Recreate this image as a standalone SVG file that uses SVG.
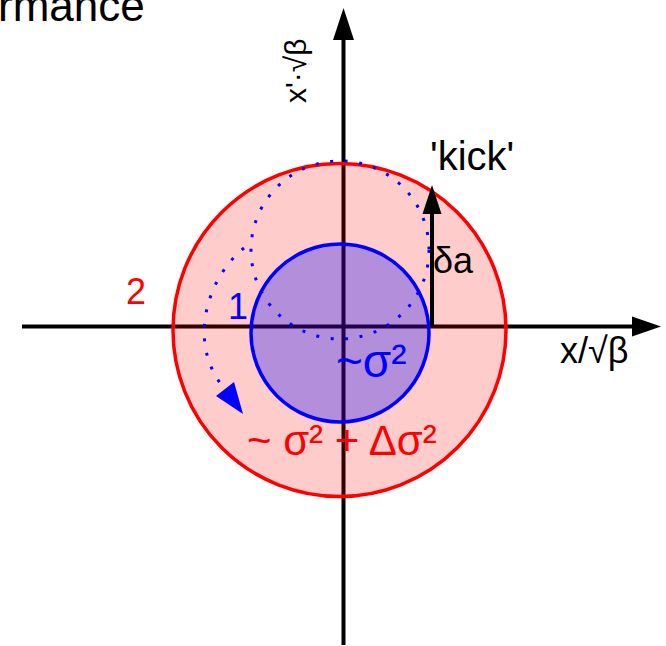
<svg xmlns="http://www.w3.org/2000/svg" width="666" height="646" viewBox="0 0 666 646">
<defs>
<style>
text{font-family:"Liberation Sans",Arial,sans-serif}
.axis{stroke:#000;stroke-width:4;fill:none}
.head{fill:#000;stroke:none}
.dot{fill:none;stroke:#0000FF;stroke-width:3;stroke-dasharray:3 11.6}
</style>
</defs>
<rect width="666" height="646" fill="#fff"/>
<text x="-2" y="21" font-size="44" fill="#000">rmance</text>
<g id="axes">
<line class="axis" x1="22" y1="326.5" x2="636" y2="326.5"/>
<polygon class="head" points="661,326.5 632,316.5 632,336.5"/>
<line class="axis" x1="343.5" y1="645" x2="343.5" y2="36"/>
<polygon class="head" points="343.5,8 333,40 354,40"/>
</g>
<g id="orbit2">
<circle cx="339.5" cy="330" r="166.5" fill="#FF0000" fill-opacity="0.2" stroke="#FF0000" stroke-width="3.5"/>
</g>
<g id="orbit1">
<circle cx="340" cy="333" r="89" fill="#0000FF" fill-opacity="0.3" stroke="#0000FF" stroke-width="3.5"/>
</g>
<g id="connectors">
<circle class="dot" cx="340" cy="250" r="89"/>
<path class="dot" d="M244,248 C205,280 188,345 224,388"/>
<polygon points="216,396 234,382 243,414" fill="#0000FF"/>
<line class="axis" x1="432" y1="326" x2="432" y2="210"/>
<polygon class="head" points="432,185 422.5,214 441.5,214"/>
</g>
<g id="labels">
<text x="306" y="103" font-size="30" transform="rotate(-90 306 103)">x'·√β</text>
<text x="430" y="170" font-size="40">'kick'</text>
<text x="433" y="273" font-size="36">δa</text>
<text x="126" y="304" font-size="36" fill="#FF0000">2</text>
<text x="228" y="319" font-size="36" fill="#0000FF">1</text>
<text x="336" y="377" font-size="46" fill="#0000FF">~σ²</text>
<text x="247" y="455" font-size="42" fill="#FF0000">~ σ² + Δσ²</text>
<text x="560" y="363" font-size="36">x/√β</text>
</g>
</svg>
